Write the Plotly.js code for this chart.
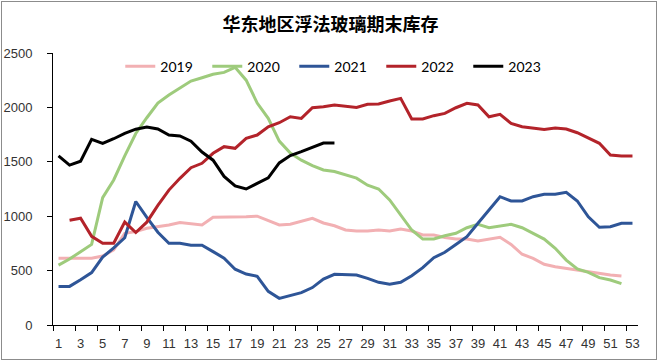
<!DOCTYPE html>
<html>
<head>
<meta charset="utf-8">
<script src="https://cdn.plot.ly/plotly-3.0.1.min.js"></script>
<style>
  html, body { margin: 0; padding: 0; background: #fff; }
  #wrap { position: relative; width: 661px; height: 362px; }
  #chart { position: absolute; left: 0; top: 0; width: 661px; height: 362px; }
  #frame { position: absolute; left: 1px; top: 1px; width: 654px; height: 357px; border: 1px solid #8c8c8c; pointer-events: none; }
</style>
</head>
<body>
<div id="wrap"><div id="chart"></div><div id="frame"></div></div>
<script>
const weeks = [1,2,3,4,5,6,7,8,9,10,11,12,13,14,15,16,17,18,19,20,21,22,23,24,25,26,27,28,29,30,31,32,33,34,35,36,37,38,39,40,41,42,43,44,45,46,47,48,49,50,51,52,53];
const oddLabels = [1,3,5,7,9,11,13,15,17,19,21,23,25,27,29,31,33,35,37,39,41,43,45,47,49,51,53];
const yTicks = [0,500,1000,1500,2000,2500];

const s2019 = [613,613,613,613,634,690,843,858,889,904,919,942,928,919,990,990,990,995,1000,956,919,926,952,981,938,912,873,864,864,873,864,882,864,827,827,805,790,790,772,790,806,741,650,613,558,536,521,503,484,469,460,450];
const s2020 = [550,606,674,741,1170,1333,1555,1760,1905,2040,2114,2181,2242,2273,2304,2322,2368,2250,2040,1900,1690,1580,1515,1465,1425,1410,1380,1350,1285,1250,1150,1010,873,790,790,820,843,894,925,894,910,925,894,843,790,705,597,515,484,435,414,380];
const s2021 = [355,355,416,482,624,708,802,1135,990,853,751,751,733,733,674,615,513,468,448,310,245,268,298,344,422,466,460,460,429,392,374,392,453,527,619,668,740,812,935,1057,1179,1140,1140,1179,1201,1201,1219,1140,995,898,904,935,935];
const s2022 = [null,962,981,815,751,751,946,850,945,1100,1240,1348,1446,1486,1578,1639,1624,1715,1746,1822,1859,1914,1899,1997,2006,2022,2013,2000,2028,2031,2059,2083,1893,1893,1924,1945,1997,2037,2022,1914,1936,1853,1822,1807,1798,1810,1801,1767,1716,1670,1562,1553,1553];
const s2023 = [1555,1470,1505,1706,1670,1712,1762,1800,1820,1801,1746,1737,1690,1590,1515,1366,1278,1250,1302,1352,1490,1558,1593,1630,1672,1672];

const seriesNames = ['2019','2020','2021','2022','2023'];
const seriesData = [s2019, s2020, s2021, s2022, s2023];
const seriesColors = ['#F2B0B3','#9ECB7C','#2E5597','#B3232A','#000000'];

const traces = seriesData.map((vals, i) => ({
  type: 'scatter', mode: 'lines', name: seriesNames[i],
  x: weeks.slice(0, vals.length), y: vals,
  line: { color: seriesColors[i], width: 3 },
  connectgaps: false, hoverinfo: 'skip'
}));

// invisible trace to carry the between-category tick marks axis
traces.push({ type: 'scatter', mode: 'lines', x: [0.5, 53.5], y: [null, null], xaxis: 'x2', showlegend: false, hoverinfo: 'skip' });

const betweenTicks = [];
for (let v = 0.5; v <= 52.5; v += 2) betweenTicks.push(v);

const tickFont = { family: 'Liberation Sans, Arial, sans-serif', size: 13, color: '#333333' };

const layout = {
  width: 661, height: 362,
  margin: { l: 53, r: 23, t: 53, b: 37, pad: 0 },
  paper_bgcolor: '#ffffff', plot_bgcolor: '#ffffff',
  showlegend: true,
  title: {
    text: '<b>华东地区浮法玻璃期末库存</b>',
    font: { family: 'Noto Sans CJK SC, sans-serif', size: 18, color: '#000000' },
    x: 0.5, xref: 'container', xanchor: 'center',
    y: 1 - 25 / 362, yref: 'container', yanchor: 'middle'
  },
  legend: {
    orientation: 'h', x: 0.115, xanchor: 'left', y: 0.95, yanchor: 'middle',
    font: { family: 'Lato, sans-serif', size: 14, color: '#000000' },
    bgcolor: 'rgba(0,0,0,0)', entrywidth: 42, entrywidthmode: 'pixels',
    traceorder: 'normal'
  },
  xaxis: {
    type: 'linear', range: [0.5, 53.5], tickmode: 'array', tickvals: oddLabels,
    ticktext: oddLabels.map(String), ticks: '', showline: true, linecolor: '#000000', linewidth: 1,
    showgrid: false, zeroline: false, tickfont: tickFont, ticklabelstandoff: 6, fixedrange: true
  },
  xaxis2: {
    type: 'linear', overlaying: 'x', matches: 'x', anchor: 'y', side: 'bottom', range: [0.5, 53.5],
    tickmode: 'array', tickvals: betweenTicks, ticks: 'outside', ticklen: 5, tickcolor: '#000000',
    showticklabels: false, showgrid: false, zeroline: false, showline: false
  },
  yaxis: {
    range: [0, 2500], tickmode: 'array', tickvals: yTicks, ticks: 'outside', ticklen: 5, tickcolor: '#000000',
    showline: true, linecolor: '#000000', linewidth: 1, showgrid: false, zeroline: false,
    tickfont: tickFont, ticklabelstandoff: 12, fixedrange: true
  }
};

Plotly.newPlot('chart', traces, layout, { displayModeBar: false, staticPlot: true });
</script>
</body>
</html>
